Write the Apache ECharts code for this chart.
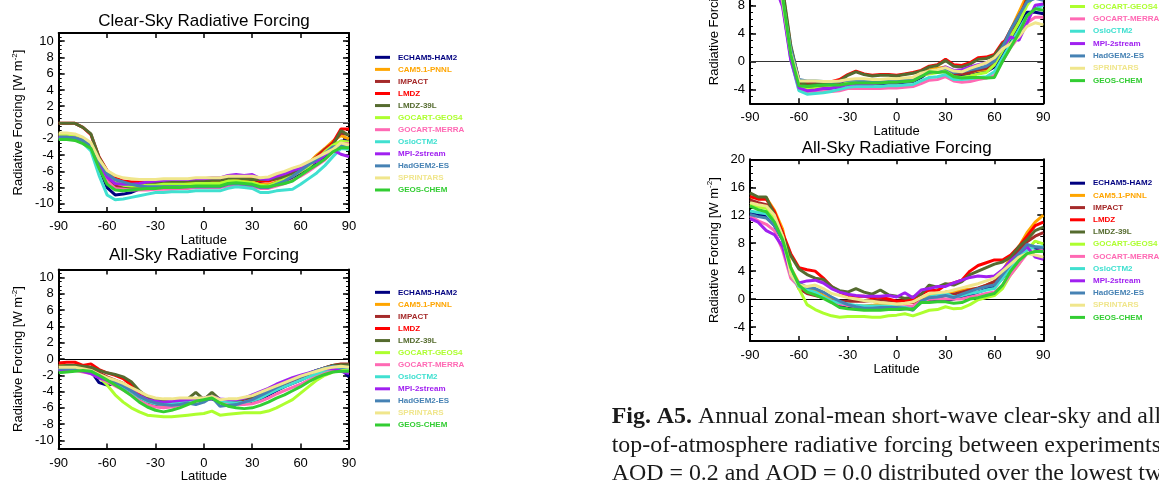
<!DOCTYPE html>
<html>
<head>
<meta charset="utf-8">
<script src="https://cdn.jsdelivr.net/npm/echarts@6/dist/echarts.min.js"></script>
<style>
html,body{margin:0;padding:0;background:#fff;}
#c{width:1159px;height:481px;}
</style>
</head>
<body>
<div id="c"></div>
<script>
// ---------------- DATA ----------------
const LAT = [-90,-85,-80,-75,-70,-65,-60,-55,-50,-45,-40,-35,-30,-25,-20,-15,-10,-5,0,5,10,15,20,25,30,35,40,45,50,55,60,65,70,75,80,85,90];
const MODELS = ['ECHAM5-HAM2','CAM5.1-PNNL','IMPACT','LMDZ','LMDZ-39L','GOCART-GEOS4','GOCART-MERRA','OsloCTM2','MPI-2stream','HadGEM2-ES','SPRINTARS','GEOS-CHEM'];
const X_TICKS = [-90,-60,-30,0,30,60,90];
const Y_TICKS_LEFT = [-10,-8,-6,-4,-2,0,2,4,6,8,10];
const Y_TICKS_RIGHT = [-4,0,4,8,12,16,20];

// Left column, clear-sky (W m-2), one row per model, values at LAT
const clearSkyLeft = [
 [-1.7,-1.7,-1.8,-2.2,-3.0,-5.5,-8.0, -8.9,-8.8,-8.6,-8.2,-7.9,-7.7,-7.6,-7.6,-7.5,-7.4,-7.3, -7.3,-7.3,-7.2,-7.0,-6.9,-7.0,-7.0,-7.5,-7.7,-7.5,-7.2, -6.8,-6.2,-5.5,-4.8,-4.2,-3.2,-2.3,-2.2],
 [-1.5,-1.5,-1.6,-2.0,-2.8,-5.0,-6.8, -7.6,-7.8,-7.9,-7.8,-7.7,-7.6,-7.5,-7.5,-7.4,-7.4,-7.3, -7.3,-7.3,-7.3,-7.0,-7.0,-7.2,-7.3,-7.6,-7.6,-7.3,-7.0, -6.5,-6.0,-5.0,-4.0,-3.2,-2.3,-1.6,-2.0],
 [-1.6,-1.6,-1.7,-2.0,-2.8,-5.2,-7.0, -7.8,-8.0,-8.0,-8.0,-7.8,-7.7,-7.7,-7.7,-7.6,-7.6,-7.6, -7.6,-7.6,-7.6,-7.3,-7.2,-7.4,-7.5,-7.8,-7.8,-7.4,-7.0, -6.5,-5.8,-5.0,-4.2,-3.3,-2.5,-1.3,-1.5],
 [-0.1,-0.1,-0.1,-0.6,-1.5,-4.2,-5.9, -6.8,-7.2,-7.3,-7.3,-7.2,-7.1,-7.0,-7.0,-7.0,-7.0,-7.0, -7.0,-6.9,-6.9,-6.7,-6.6,-6.8,-6.9,-7.2,-7.2,-6.9,-6.6, -6.2,-5.7,-5.0,-4.3,-3.5,-2.5,-0.8,-0.8],
 [-0.1,-0.1,-0.1,-0.6,-1.4,-4.3,-6.0, -7.2,-7.8,-8.0,-7.8,-7.6,-7.4,-7.4,-7.3,-7.3,-7.2,-7.2, -7.2,-7.1,-7.1,-6.9,-6.8,-6.9,-7.0,-7.0,-7.0,-6.9,-6.7, -6.3,-5.8,-5.2,-4.6,-3.8,-2.8,-1.0,-1.6],
 [-1.5,-1.5,-1.6,-1.9,-2.6,-4.8,-6.5, -7.4,-7.7,-7.8,-7.8,-7.7,-7.7,-7.6,-7.6,-7.6,-7.6,-7.5, -7.5,-7.5,-7.5,-7.2,-7.2,-7.3,-7.4,-7.7,-7.8,-7.4,-7.0, -6.6,-6.0,-5.4,-4.6,-3.6,-2.8,-2.3,-2.4],
 [-1.9,-1.9,-2.0,-2.3,-3.0,-5.3,-7.2, -8.1,-8.2,-8.3,-8.3,-8.3,-8.2,-8.2,-8.2,-8.1,-8.1,-8.0, -8.0,-8.0,-8.0,-7.8,-7.7,-7.8,-7.9,-8.1,-8.1,-7.8,-7.5, -7.1,-6.6,-6.0,-5.3,-4.6,-3.6,-2.6,-2.6],
 [-2.0,-2.0,-2.1,-2.5,-3.5,-6.5,-8.9, -9.5,-9.4,-9.2,-9.0,-8.8,-8.6,-8.6,-8.5,-8.5,-8.5,-8.4, -8.4,-8.4,-8.4,-8.1,-7.9,-8.0,-8.1,-8.6,-8.6,-8.4,-8.3, -8.2,-7.6,-6.9,-6.2,-5.3,-4.2,-3.2,-3.3],
 [-1.8,-1.8,-1.9,-2.2,-2.9,-5.0,-6.7, -7.5,-7.6,-7.6,-7.5,-7.3,-7.2,-7.1,-7.0,-7.0,-7.0,-6.9, -6.9,-6.8,-6.8,-6.5,-6.4,-6.5,-6.4,-6.9,-7.0,-6.6,-6.3, -5.9,-5.6,-5.0,-4.8,-4.0,-3.4,-3.9,-4.2],
 [-1.8,-1.8,-1.9,-2.2,-2.8,-4.7,-6.3, -7.0,-7.3,-7.6,-7.8,-7.9,-7.9,-7.9,-7.9,-7.9,-7.9,-7.9, -7.9,-7.9,-7.9,-7.6,-7.5,-7.6,-7.7,-8.0,-8.0,-7.6,-7.2, -6.6,-5.9,-5.2,-4.5,-3.8,-3.0,-2.9,-3.0],
 [-1.3,-1.3,-1.4,-1.8,-2.5,-4.5,-5.9, -6.5,-6.8,-6.9,-7.0,-7.0,-7.0,-6.9,-6.9,-6.9,-6.9,-6.8, -6.8,-6.8,-6.8,-6.6,-6.6,-6.6,-6.6,-6.8,-6.7,-6.3,-6.0, -5.6,-5.3,-4.8,-4.3,-3.8,-3.3,-2.5,-2.8],
 [-2.1,-2.1,-2.2,-2.6,-3.2,-5.6,-7.6, -8.3,-8.4,-8.3,-8.2,-8.1,-8.1,-8.0,-8.0,-8.0,-7.9,-7.8, -7.8,-7.8,-7.8,-7.5,-7.4,-7.5,-7.6,-7.9,-7.9,-7.7,-7.5, -7.2,-6.5,-5.8,-5.2,-4.5,-3.6,-3.1,-3.1]
];

// Left column, all-sky
const allSkyLeft = [
 [-1.3,-1.2,-1.2,-1.3,-1.5,-2.9,-3.2, -3.0,-3.5,-4.2,-4.8,-5.2,-5.5,-5.6,-5.6,-5.5,-5.3,-5.1, -5.0,-4.9,-5.3,-5.5,-5.6,-5.5,-5.3,-4.9,-4.4,-3.9,-3.4, -3.0,-2.6,-2.1,-1.7,-1.4,-1.1,-1.2,-2.2],
 [-0.8,-0.8,-0.9,-1.0,-1.3,-1.9,-2.3, -2.8,-3.2,-3.9,-4.6,-5.2,-5.6,-5.8,-5.7,-5.5,-5.2,-5.0, -4.9,-4.7,-5.1,-5.3,-5.4,-5.3,-5.1,-4.7,-4.2,-3.7,-3.3, -2.9,-2.5,-2.1,-1.7,-1.4,-1.1,-0.9,-0.9],
 [-1.0,-0.9,-0.9,-1.1,-1.3,-1.7,-2.2, -2.6,-3.0,-3.8,-4.8,-5.4,-5.6,-5.6,-5.4,-5.2,-5.0,-4.9, -4.9,-4.6,-5.0,-5.2,-5.3,-5.1,-4.9,-4.5,-4.0,-3.5,-3.0, -2.6,-2.2,-1.8,-1.4,-1.1,-0.8,-0.6,-0.6],
 [-0.5,-0.4,-0.4,-0.8,-0.6,-1.3,-1.7, -2.0,-2.4,-3.2,-4.4,-5.1,-5.3,-5.3,-5.2,-5.0,-4.9,-4.9, -4.9,-4.6,-5.0,-5.2,-5.3,-5.2,-5.0,-4.6,-4.1,-3.6,-3.1, -2.7,-2.3,-1.9,-1.5,-1.1,-0.8,-0.7,-0.8],
 [-0.9,-0.8,-0.8,-0.9,-1.0,-1.4,-1.7, -1.9,-2.2,-2.8,-3.9,-4.7,-5.0,-5.1,-5.1,-5.0,-4.9,-4.1, -5.0,-4.1,-5.0,-5.1,-5.1,-4.9,-4.6,-4.2,-3.8,-3.2,-2.8, -2.5,-2.2,-1.8,-1.4,-1.1,-0.8,-0.7,-0.7],
 [-1.3,-1.2,-1.2,-1.3,-1.6,-2.2,-3.2, -4.4,-5.3,-6.0,-6.5,-6.9,-7.0,-7.1,-7.1,-7.0,-6.9,-6.8, -6.7,-6.4,-6.9,-6.8,-6.7,-6.6,-6.6,-6.6,-6.4,-6.0,-5.5, -5.0,-4.2,-3.4,-2.6,-2.0,-1.6,-1.4,-1.3],
 [-1.3,-1.3,-1.4,-1.6,-1.8,-2.3,-2.8, -3.3,-3.8,-4.4,-5.1,-5.6,-5.9,-6.0,-5.9,-5.7,-5.4,-5.2, -5.0,-4.8,-5.3,-5.5,-5.6,-5.6,-5.5,-5.2,-4.8,-4.3,-3.9, -3.5,-3.1,-2.6,-2.1,-1.7,-1.4,-1.5,-1.6],
 [-1.4,-1.3,-1.3,-1.4,-1.6,-2.0,-2.5, -2.9,-3.4,-4.0,-4.7,-5.2,-5.5,-5.6,-5.5,-5.3,-5.1,-5.0, -4.9,-4.7,-5.1,-5.3,-5.4,-5.3,-5.1,-4.8,-4.3,-3.8,-3.4, -3.0,-2.6,-2.2,-1.8,-1.4,-1.1,-1.0,-1.1],
 [-1.4,-1.3,-1.3,-1.5,-1.8,-2.3,-2.6, -2.9,-3.2,-3.8,-4.5,-5.0,-5.2,-5.3,-5.2,-5.1,-5.0,-4.9, -4.8,-4.6,-4.9,-5.0,-5.0,-4.8,-4.4,-4.0,-3.6,-3.1,-2.7, -2.3,-2.0,-1.7,-1.4,-1.2,-1.2,-1.5,-1.8],
 [-1.2,-1.2,-1.2,-1.3,-1.5,-2.0,-2.5, -2.8,-3.3,-3.9,-4.6,-5.1,-5.4,-5.6,-5.7,-5.6,-5.4,-5.6, -5.3,-4.7,-5.8,-5.7,-5.6,-5.3,-5.0,-4.5,-4.0,-3.5,-3.0, -2.6,-2.2,-1.8,-1.4,-1.1,-0.9,-1.0,-1.0],
 [-1.0,-1.0,-1.0,-1.2,-1.4,-1.9,-2.3, -2.6,-3.0,-3.5,-4.0,-4.5,-4.8,-4.9,-4.9,-4.8,-4.8,-4.8, -4.8,-4.6,-5.0,-4.9,-4.9,-4.7,-4.5,-4.1,-3.7,-3.3,-2.9, -2.5,-2.1,-1.8,-1.5,-1.2,-1.0,-0.9,-1.0],
 [-1.7,-1.6,-1.5,-1.4,-1.5,-2.0,-2.6, -3.2,-3.8,-4.5,-5.3,-5.9,-6.3,-6.5,-6.3,-6.0,-5.6,-5.2, -5.0,-4.8,-5.4,-5.8,-6.0,-6.1,-6.0,-5.7,-5.3,-4.8,-4.4, -3.9,-3.4,-2.8,-2.3,-1.9,-1.6,-1.5,-1.5]
];

// Right column, clear-sky
const clearSkyRight = [
 [15,14.5,14,12,8.5,0.8,-3.6, -4.2,-4.0,-3.9,-3.8,-3.6,-3.2,-3.1,-3.2,-3.2,-3.2,-3.1, -3.1,-3.0,-2.9,-2.3,-1.5,-1.3,-1.0,-2.0,-2.1,-2.0,-1.7, -1.5,-0.8,1.0,3.0,5.0,7.0,7.0,6.8],
 [17,16.5,16,13.5,9.8,1.5,-3.0, -3.6,-3.5,-3.4,-3.3,-3.1,-2.7,-2.6,-2.7,-2.8,-2.8,-2.7, -2.7,-2.5,-2.4,-1.8,-1.2,-1.0,-0.8,-1.6,-1.7,-1.6,-1.3, -1.2,-0.3,2.0,4.5,7.0,9.5,11,12],
 [16,15.8,15.5,13,9.3,1.2,-3.2, -3.8,-3.7,-3.6,-3.5,-3.3,-2.9,-2.8,-2.9,-3.0,-3.0,-2.9, -2.9,-2.7,-2.6,-2.0,-1.5,-1.3,-1.0,-1.8,-1.8,-1.6,-1.2, -1.0,0.0,2.3,4.5,6.5,8.5,9.5,10],
 [17,16.8,16.5,14,10,2.0,-2.6, -3.2,-3.1,-3.0,-2.9,-2.6,-1.9,-1.4,-1.8,-2.0,-1.9,-1.9, -2.0,-1.8,-1.6,-1.3,-0.7,-0.5,0.3,-0.5,-0.6,-0.2,0.5, 0.6,1.0,2.7,3.5,6.0,9.0,11.0,11.5],
 [17.5,17,16.8,14.5,10.5,2.3,-2.8, -3.4,-3.3,-3.2,-3.1,-2.8,-2.0,-1.5,-1.9,-2.1,-2.0,-2.0, -2.1,-1.9,-1.7,-1.4,-0.8,-0.6,0.1,-0.7,-0.8,-0.4,0.3, 0.4,0.8,2.5,3.3,5.8,8.8,10.5,11],
 [16,15.5,15,12.5,9.0,1.0,-3.5, -4.0,-3.9,-3.8,-3.7,-3.5,-3.0,-2.9,-3.0,-3.0,-3.0,-2.9, -2.9,-2.8,-2.7,-2.0,-1.8,-1.6,-1.3,-2.2,-2.3,-2.1,-1.8, -1.6,-0.5,1.5,3.5,5.5,8.0,9.5,10],
 [14,13.5,13,11,8.0,0.5,-4.0, -4.4,-4.4,-4.3,-4.3,-4.2,-3.9,-3.9,-3.9,-3.9,-3.9,-3.8, -3.8,-3.7,-3.6,-3.2,-2.7,-2.6,-2.2,-2.8,-3.0,-2.9,-2.6, -2.4,-2.0,0.0,2.0,3.5,5.5,6.3,6.3],
 [14.5,14,13.5,11.5,8.2,0.3,-4.2, -4.7,-4.6,-4.5,-4.3,-4.0,-3.7,-3.6,-3.6,-3.6,-3.6,-3.5, -3.5,-3.4,-3.3,-2.8,-2.3,-2.2,-1.9,-2.6,-2.6,-2.5,-2.3, -2.2,-1.5,0.5,2.5,4.5,6.5,7.5,8.0],
 [14,13.5,13,11,7.8,0.2,-3.8, -4.2,-4.1,-3.9,-3.8,-3.6,-3.3,-3.2,-3.2,-3.2,-3.1,-3.0, -3.0,-2.9,-2.8,-2.0,-1.6,-1.3,-0.8,-1.3,-1.2,-0.8,-0.5, -0.2,0.3,2.0,3.5,3.0,5.5,8.0,8.2],
 [15,14.5,14,12,8.8,1.8,-2.6, -2.8,-2.8,-2.9,-3.0,-2.9,-2.7,-2.7,-2.8,-2.8,-2.8,-2.8, -2.8,-2.7,-2.6,-1.8,-1.4,-1.3,-1.0,-1.6,-1.5,-1.2,-1.0, -0.7,0.0,2.0,4.5,6.5,8.5,9.0,8.7],
 [15,14.5,14,12,8.6,1.2,-2.8, -2.8,-2.8,-2.9,-2.9,-2.8,-2.6,-2.5,-2.5,-2.6,-2.6,-2.5, -2.5,-2.4,-2.3,-1.7,-1.4,-1.2,-0.9,-1.4,-1.5,-1.0,-0.6, -0.2,0.5,1.8,2.5,3.5,5.0,5.5,5.2],
 [15.5,15,14.5,12.5,9.2,1.0,-3.5, -3.6,-3.5,-3.4,-3.4,-3.4,-3.2,-3.1,-3.1,-3.1,-3.1,-3.0, -3.0,-2.9,-2.8,-2.2,-1.5,-1.6,-1.5,-2.2,-2.4,-2.3,-2.3, -2.4,-2.3,0.0,2.0,4.0,6.5,7.5,7.3]
];

// Right column, all-sky
const allSkyRight = [
 [12.3,12.0,12.0,10.5,8.5,3.8,2.0, 1.6,1.2,0.5,-0.4,-1.0,-1.3,-1.4,-1.4,-1.5,-1.5,-1.5, -1.5,-1.4,-1.3,-0.3,0.0,-0.1,-0.2,0.0,0.3,0.6,1.0, 1.4,1.8,3.0,4.5,6.0,7.5,7.3,7.0],
 [14.6,14.5,14.5,12.7,10.0,4.5,2.3, 1.5,1.2,0.5,0.0,-0.5,-0.9,-1.0,-1.0,-0.9,-0.7,-0.8, -0.8,-0.6,-0.5,0.0,0.5,0.7,1.0,1.1,1.3,1.4,1.5, 2.0,2.5,4.0,6.0,7.5,9.5,11.0,12.0],
 [14.2,13.8,13.5,12.0,9.5,4.0,1.5, 0.8,0.5,0.2,-0.3,-0.3,-0.3,-0.3,-0.3,-0.2,-0.1,-0.2, -0.3,-0.4,-0.5,-0.2,0.0,0.2,0.5,0.7,1.0,1.3,1.6, 2.0,2.5,4.0,5.5,7.0,8.2,9.0,9.5],
 [14.7,14.3,14.3,12.5,9.5,6.5,4.5, 4.2,4.0,3.0,1.8,1.0,0.5,0.4,0.4,0.2,0.3,0.0, -0.3,-0.2,0.0,0.7,1.3,1.2,2.0,2.3,2.7,4.0,4.8, 5.2,5.6,5.6,6.3,7.5,9.0,10.5,11.0],
 [15.2,14.6,14.6,12.0,9.0,6.2,4.3, 3.5,3.0,2.8,1.8,1.2,1.0,1.5,1.0,0.7,1.3,0.6, 0.4,0.1,0.3,0.7,2.0,1.7,2.2,2.0,2.5,3.5,4.0, 4.5,5.0,5.3,6.0,7.5,8.5,9.8,10.3],
 [13.5,13.2,13.0,11.5,9.0,4.5,1.5, -0.8,-1.5,-2.0,-2.4,-2.6,-2.5,-2.5,-2.5,-2.6,-2.6,-2.4, -2.3,-2.1,-2.4,-2.0,-1.6,-1.5,-1.1,-1.4,-1.3,-0.8,-0.1, 0.2,0.5,1.5,3.5,5.0,7.0,8.3,7.9],
 [11.9,11.2,10.7,9.8,7.0,3.0,1.8, 1.2,0.8,0.3,-0.3,-0.7,-0.9,-1.1,-1.2,-1.2,-1.2,-1.2, -1.2,-1.1,-1.0,-0.3,0.0,0.0,0.0,0.0,0.0,0.3,0.5, 0.8,1.0,2.0,3.5,5.0,6.5,6.8,7.0],
 [12.6,12.4,12.2,11.0,8.5,3.5,1.8, 1.3,1.0,0.3,-0.3,-0.5,-0.7,-0.9,-1.0,-1.0,-1.0,-1.0, -1.1,-1.2,-1.5,-0.5,0.3,0.5,0.8,0.3,0.5,0.8,1.0, 1.3,1.5,3.0,4.5,6.0,7.0,7.5,7.5],
 [11.5,11.0,9.8,9.2,7.5,3.5,2.3, 2.6,2.7,2.3,1.5,1.0,0.7,0.5,0.4,0.4,0.4,0.5, 0.3,0.9,0.2,1.3,1.5,1.8,1.8,2.3,2.7,3.1,3.3, 3.2,3.3,4.2,5.5,6.5,7.5,6.0,5.7],
 [12.1,11.8,11.6,10.5,8.5,4.0,2.2, 1.7,1.5,1.0,0.3,-0.3,-0.8,-1.1,-1.3,-1.3,-1.2,-1.2, -1.2,-1.3,-1.6,-0.3,0.2,0.3,0.5,0.2,0.7,1.1,1.5, 1.8,2.0,3.5,5.0,6.5,7.8,7.5,7.3],
 [13.8,13.5,13.3,12.0,9.0,3.5,2.0, 1.8,2.0,1.5,0.8,0.5,0.2,0.0,-0.2,-0.3,-0.5,-0.6, -0.7,-0.6,-0.4,0.2,0.8,0.9,1.0,1.3,1.6,1.9,2.2, 2.6,3.0,4.0,5.0,6.0,6.5,6.3,6.0],
 [13.3,12.8,12.5,11.0,8.5,4.5,2.0, 1.0,0.6,0.1,-0.5,-1.2,-1.4,-1.5,-1.6,-1.6,-1.6,-1.5, -1.5,-1.4,-1.5,-0.5,-0.5,-0.4,-0.4,-0.6,-0.5,0.0,0.2, 0.5,0.8,2.0,4.0,5.5,6.5,6.8,6.8]
];

// ---------------- STYLE / LAYOUT ----------------
const COLORS = ['#000080','#FFA500','#A52A2A','#FF0000','#556B2F','#ADFF2F','#FF69B4','#40E0D0','#A020F0','#4682B4','#F0E68C','#32CD32'];
const FONT = "'Liberation Sans', Arial, sans-serif";
const SERIF = "'Liberation Serif', 'Times New Roman', serif";

const PANELS = [
  {data: clearSkyLeft,  title:'Clear-Sky Radiative Forcing', grid:{left:58.7, top:33,   width:290.3, height:179}, ymin:-11, ymax:11, yticks:Y_TICKS_LEFT,  yminor:0.5, zero:'#777', legendTop:51.3, legendLeft:375, legendLH:12.06, titleX:204, titleY:12.5, nameGap:32},
  {data: allSkyLeft,    title:'All-Sky Radiative Forcing',   grid:{left:58.7, top:269.5, width:290.3, height:179}, ymin:-11, ymax:11, yticks:Y_TICKS_LEFT,  yminor:0.5, zero:'#000', legendTop:286.3, legendLeft:375, legendLH:12.06, titleX:204, titleY:247.2, nameGap:32},
  {data: clearSkyRight, title:'Clear-Sky Radiative Forcing', grid:{left:750, top:-78.7, width:293.3, height:182}, ymin:-6, ymax:20, yticks:Y_TICKS_RIGHT, yminor:1, zero:'#333', legendTop:-61.4, legendLeft:1070, legendLH:12.35, titleX:896.7, titleY:-101, nameGap:28},
  {data: allSkyRight,   title:'All-Sky Radiative Forcing',   grid:{left:750, top:159.3, width:293.3, height:181.7}, ymin:-6, ymax:20, yticks:Y_TICKS_RIGHT, yminor:1, zero:'#000', legendTop:177.1, legendLeft:1070, legendLH:12.2, titleX:896.7, titleY:139.8, nameGap:28}
];

const AXLINE = {show:true, onZero:false, lineStyle:{color:'#000', width:2}};
const NOLINE = {show:false, onZero:false};
const grids = [], xAxes = [], yAxes = [], series = [], titles = [], legends = [];

PANELS.forEach((P, p) => {
  grids.push(Object.assign({containLabel:false, outerBoundsMode:'none'}, P.grid));
  titles.push({text:P.title, left:P.titleX, top:P.titleY, textAlign:'center', padding:0,
    textStyle:{fontSize:17, fontWeight:'normal', color:'#000', fontFamily:FONT, lineHeight:17}});
  // x axes: bottom (labels) + top (ticks only)
  xAxes.push({gridIndex:p, type:'value', position:'bottom', min:-90, max:90, interval:30,
    axisLine:AXLINE, axisTick:{show:true, inside:true, length:5, lineStyle:{color:'#000', width:1.5}},
    axisLabel:{fontSize:13, color:'#000', fontFamily:FONT, margin:8, customValues:X_TICKS},
    splitLine:{show:false},
    name:'Latitude', nameLocation:'middle', nameGap:21,
    nameTextStyle:{fontSize:13, color:'#000', fontFamily:FONT}});
  xAxes.push({gridIndex:p, type:'value', position:'top', min:-90, max:90, interval:30,
    axisLine:AXLINE, axisTick:{show:true, inside:true, length:5, lineStyle:{color:'#000', width:1.5}},
    axisLabel:{show:false}, splitLine:{show:false}});
  // y axes: left major (labels), left minor, right major, right minor
  yAxes.push({gridIndex:p, type:'value', position:'left', min:P.ymin, max:P.ymax,
    axisLine:AXLINE,
    axisTick:{show:true, inside:true, length:6, customValues:P.yticks, lineStyle:{color:'#000', width:1.5}},
    axisLabel:{fontSize:13, color:'#000', fontFamily:FONT, margin:5, customValues:P.yticks},
    splitLine:{show:false},
    name:'{a|Radiative Forcing [W m}{s|-2}{a|]}', nameLocation:'middle', nameRotate:90, nameGap:P.nameGap,
    nameTextStyle:{color:'#000', fontFamily:FONT, fontSize:13,
      rich:{a:{fontSize:13, fontFamily:FONT, color:'#000', lineHeight:16},
            s:{fontSize:8, fontFamily:FONT, color:'#000', lineHeight:16, verticalAlign:'top'}}}});
  yAxes.push({gridIndex:p, type:'value', position:'left', min:P.ymin, max:P.ymax, interval:P.yminor,
    axisLine:NOLINE, axisTick:{show:true, inside:true, length:3, lineStyle:{color:'#000', width:1}},
    axisLabel:{show:false}, splitLine:{show:false}});
  yAxes.push({gridIndex:p, type:'value', position:'right', min:P.ymin, max:P.ymax,
    axisLine:AXLINE,
    axisTick:{show:true, inside:true, length:6, customValues:P.yticks, lineStyle:{color:'#000', width:1.5}},
    axisLabel:{show:false}, splitLine:{show:false}});
  yAxes.push({gridIndex:p, type:'value', position:'right', min:P.ymin, max:P.ymax, interval:P.yminor,
    axisLine:NOLINE, axisTick:{show:true, inside:true, length:3, lineStyle:{color:'#000', width:1}},
    axisLabel:{show:false}, splitLine:{show:false}});

  MODELS.forEach((m, i) => {
    const s = {type:'line', name:m, xAxisIndex:p*2, yAxisIndex:p*4,
      data: LAT.map((lat, j) => [lat, P.data[i][j]]),
      showSymbol:false, symbol:'none', smooth:false, animation:false, silent:true, clip:true,
      lineStyle:{color:COLORS[i], width:3}, itemStyle:{color:COLORS[i]}, z:2};
    if (i === 0) {
      s.markLine = {silent:true, symbol:'none', animation:false, label:{show:false},
        lineStyle:{color:P.zero, width:1, type:'solid'}, data:[{yAxis:0}], z:1};
    }
    series.push(s);
  });

  legends.push({orient:'vertical', left:P.legendLeft, top:P.legendTop, padding:0, itemGap:0,
    itemWidth:15, itemHeight:3, icon:'rect', selectedMode:false,
    data: MODELS.map((m, i) => ({name:m, itemStyle:{color:COLORS[i]}, textStyle:{color:COLORS[i]}})),
    textStyle:{fontSize:8, fontWeight:'bold', fontFamily:FONT, lineHeight:P.legendLH, padding:[0,0,0,3]}});
});

const caption = [
  {x:611.7, y:405, text:'{b|Fig. A5.} Annual zonal-mean short-wave clear-sky and all'},
  {x:611.7, y:433.5, text:'top-of-atmosphere radiative forcing between experiments'},
  {x:611.7, y:462, text:'AOD = 0.2 and AOD = 0.0 distributed over the lowest two'}
];

const chart = echarts.init(document.getElementById('c'), null, {renderer:'canvas'});
chart.setOption({
  backgroundColor:'#fff',
  animation:false,
  title:titles,
  legend:legends,
  grid:grids,
  xAxis:xAxes,
  yAxis:yAxes,
  series:series,
  graphic: caption.map(c => ({type:'text', x:c.x, y:c.y, silent:true,
    style:{text:c.text, fontSize:23.9, fontFamily:SERIF, fill:'#1a1a1a', lineHeight:24, verticalAlign:'top',
      rich:{b:{fontWeight:'bold', fontSize:23.9, fontFamily:SERIF, fill:'#1a1a1a', lineHeight:24}}}}))
});
</script>
</body>
</html>
